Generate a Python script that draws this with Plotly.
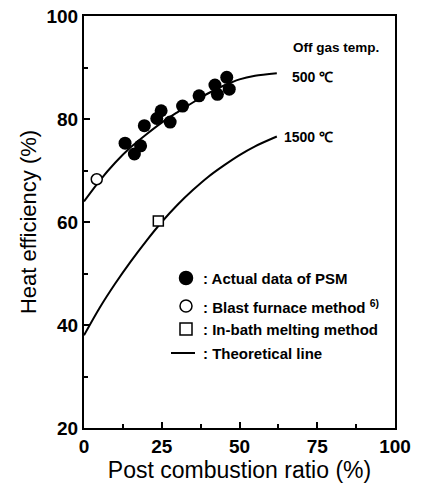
import plotly.graph_objects as go

# Data
psm_x = [13.2, 16.2, 18.2, 19.4, 23.4, 24.8, 27.7, 31.7, 37.0, 42.1, 42.9, 45.9, 46.7]
psm_y = [75.3, 73.2, 74.8, 78.7, 80.1, 81.6, 79.4, 82.5, 84.5, 86.6, 84.8, 88.1, 85.8]
blast_x = [4.1]
blast_y = [68.3]
inbath_x = [23.9]
inbath_y = [60.2]
line500_x = [0, 5, 10, 15, 20, 25, 30, 35, 40, 45, 50, 55, 62]
line500_y = [64.0, 68.0, 71.5, 74.5, 77.0, 79.3, 81.3, 83.2, 85.0, 86.5, 87.7, 88.4, 88.9]
line1500_x = [0, 5, 10, 15, 20, 25, 30, 35, 40, 45, 50, 55, 62]
line1500_y = [38.0, 43.3, 48.0, 52.3, 56.3, 60.0, 63.3, 66.2, 68.8, 71.0, 73.0, 74.7, 76.6]
x_ticks = [0, 25, 50, 75, 100]
y_ticks = [20, 40, 60, 80, 100]

FONT = "Liberation Sans, Arial, sans-serif"

W, H = 421, 484
PL, PR, PT, PB = 84, 395, 16, 428  # target plot box in pixels

fig = go.Figure()
fig.add_trace(go.Scatter(x=line500_x, y=line500_y, mode="lines", line=dict(color="black", width=2, shape="spline", smoothing=0.8), showlegend=False))
fig.add_trace(go.Scatter(x=line1500_x, y=line1500_y, mode="lines", line=dict(color="black", width=2, shape="spline", smoothing=0.8), showlegend=False))
fig.add_trace(go.Scatter(x=psm_x, y=psm_y, mode="markers", marker=dict(symbol="circle", size=13, color="black"), showlegend=False))
fig.add_trace(go.Scatter(x=blast_x, y=blast_y, mode="markers", marker=dict(symbol="circle", size=11, color="white", line=dict(color="black", width=1.5)), showlegend=False))
fig.add_trace(go.Scatter(x=inbath_x, y=inbath_y, mode="markers", marker=dict(symbol="square", size=10, color="white", line=dict(color="black", width=1.5)), showlegend=False))

def px(pix):
    return (pix - PL) / (PR - PL)
def py(pix):
    return (PB - pix) / (PB - PT)

rows = [
    (278, "circle", ": Actual data of PSM"),
    (306, "circle-open", ": Blast furnace method <sup>6)</sup>"),
    (329, "square-open", ": In-bath melting method"),
    (353, "line", ": Theoretical line"),
]
for ypix, sym, txt in rows:
    if sym == "line":
        fig.add_shape(type="line", xref="paper", yref="paper", x0=px(171), x1=px(195),
                      y0=py(ypix), y1=py(ypix), line=dict(color="black", width=2))
    else:
        fig.add_trace(go.Scatter(x=[px(186)], y=[py(ypix)], xaxis="x2", yaxis="y2", mode="markers",
                                 marker=dict(symbol=sym, size=13 if sym == "circle" else 12, color="black",
                                             line=dict(color="black", width=1.5)), showlegend=False))
    fig.add_annotation(x=px(201), y=py(ypix), xref="paper", yref="paper", text=txt, showarrow=False,
                       xanchor="left", yanchor="middle", font=dict(family=FONT, size=15, color="black", weight="bold"))

fig.add_annotation(x=px(381), y=py(48), xref="paper", yref="paper", text="Off gas temp.", showarrow=False,
                   xanchor="right", yanchor="middle", font=dict(family=FONT, size=13.5, color="black", weight="bold"))
fig.add_annotation(x=px(290), y=py(77), xref="paper", yref="paper", text="500 ℃", showarrow=False,
                   xanchor="left", yanchor="middle", font=dict(family=FONT, size=14, color="black", weight="bold"))
fig.add_annotation(x=px(282), y=py(137), xref="paper", yref="paper", text="1500 ℃", showarrow=False,
                   xanchor="left", yanchor="middle", font=dict(family=FONT, size=14, color="black", weight="bold"))

fig.update_layout(
    width=W, height=H,
    margin=dict(l=PL, r=W - PR, t=PT, b=H - PB),
    paper_bgcolor="white", plot_bgcolor="white",
    font=dict(family=FONT, color="black"),
    xaxis=dict(range=[0, 100], tickvals=x_ticks, ticks="inside", ticklen=6, tickwidth=1.5, tickcolor="black",
               showline=True, linecolor="black", linewidth=2, mirror=True, showgrid=False, zeroline=False,
               automargin=False,
               tickfont=dict(family=FONT, size=19, color="black", weight="bold"),
               minor=dict(tickvals=[12.5, 37.5, 62.5, 87.5], ticks="inside", ticklen=4, tickcolor="black"),
               title=dict(text="Post combustion ratio (%)", font=dict(family=FONT, size=23, color="black"), standoff=2)),
    yaxis=dict(range=[20, 100], tickvals=y_ticks, ticks="inside", ticklen=6, tickwidth=1.5, tickcolor="black",
               showline=True, linecolor="black", linewidth=2, mirror=True, showgrid=False, zeroline=False,
               automargin=False,
               tickfont=dict(family=FONT, size=19, color="black", weight="bold"),
               minor=dict(tickvals=[30, 50, 70, 90], ticks="inside", ticklen=4, tickcolor="black"),
               title=dict(text="Heat efficiency (%)", font=dict(family=FONT, size=22, color="black"), standoff=4)),
    xaxis2=dict(range=[0, 1], overlaying="x", visible=False, anchor="y2", automargin=False),
    yaxis2=dict(range=[0, 1], overlaying="y", visible=False, anchor="x2", automargin=False),
)

fig.write_html("out.html", post_script="document.body.style.margin='0';",
               config={"displayModeBar": False})
